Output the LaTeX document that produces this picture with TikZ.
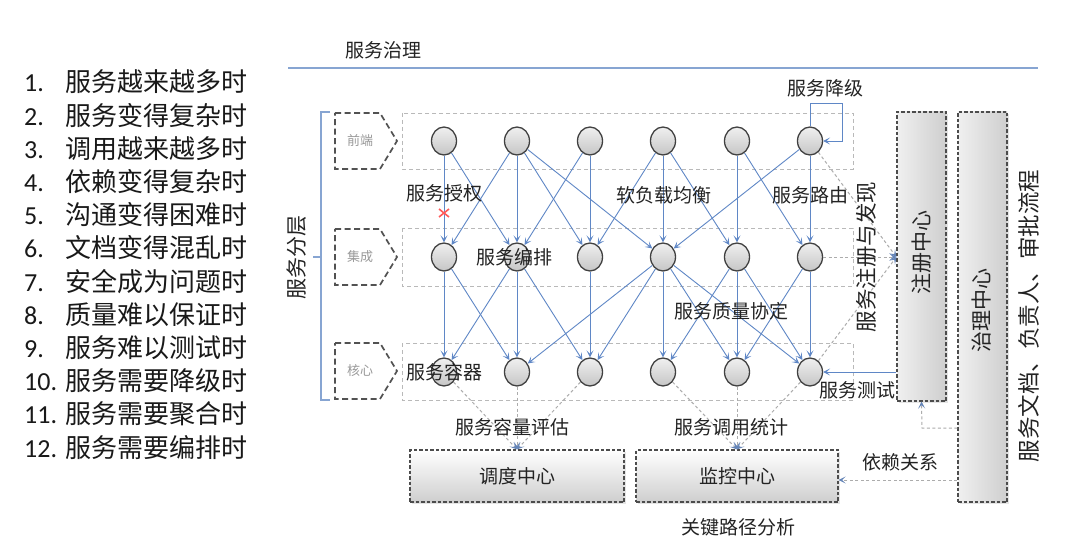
\documentclass[tikz,border=0pt]{standalone}
\usepackage{fontspec}
\setmainfont{Carlito}
\newfontfamily\cjk{Noto Sans CJK SC}
\usetikzlibrary{shapes.geometric,arrows.meta,shadows,calc}
\definecolor{arrowblue}{RGB}{95,135,198}
\definecolor{lineblue}{RGB}{135,165,210}
\definecolor{txt}{RGB}{35,35,35}
\begin{document}
\begin{tikzpicture}[x=1pt,y=-1pt,
  svc/.style={ellipse, minimum width=25pt, minimum height=28pt, inner sep=0pt,
    draw=black!75, line width=1.3pt, top color=gray!12, bottom color=gray!45},
  flow/.style={draw=arrowblue, line width=0.9pt, -{Stealth[length=7pt,width=7pt,inset=3.5pt]}},
  dg/.style={draw=gray!65, line width=1pt, dash pattern=on 3pt off 2.5pt,
    -{Stealth[length=7pt,width=7pt,inset=3.5pt,color=arrowblue!80!gray]}},
  lbl/.style={font={\cjk\fontsize{19}{22}\selectfont}, text=txt, inner sep=0pt},
  vlbl/.style={font={\cjk\fontsize{21}{24}\selectfont}, text=txt, inner sep=0pt, rotate=90},
  small/.style={font={\cjk\fontsize{13}{15}\selectfont}, text=gray!80, inner sep=0pt},
  layer/.style={draw=gray!55, line width=0.8pt, dash pattern=on 4pt off 3pt},
  pent/.style={draw=black!68, line width=1.7pt, dash pattern=on 6pt off 3.5pt},
  hbox/.style={draw=black!70, line width=1.2pt, dash pattern=on 3.5pt off 2pt,
    top color=white, bottom color=gray!38, inner sep=0pt,
    drop shadow={shadow xshift=2pt, shadow yshift=-2pt, opacity=0.2},
    font={\cjk\fontsize{19}{22}\selectfont}, text=txt},
  vbox/.style={draw=black!70, line width=1.2pt, dash pattern=on 3.5pt off 2pt,
    left color=gray!12, right color=gray!38, inner sep=0pt,
    drop shadow={shadow xshift=2pt, shadow yshift=-2pt, opacity=0.2}},
  brk/.style={draw=lineblue, line width=1.2pt},
  listitem/.style={anchor=west, inner sep=0pt, font={\fontsize{26}{30}\selectfont}, text=black!90}
]
\path[fill=white] (0,0) rectangle (1080,559);
\useasboundingbox (0,0) rectangle (1080,559);

% left list
\foreach \n/\t [count=\k from 0] in {1./服务越来越多时,2./服务变得复杂时,3./调用越来越多时,4./依赖变得复杂时,5./沟通变得困难时,6./文档变得混乱时,7./安全成为问题时,8./质量难以保证时,9./服务难以测试时,10./服务需要降级时,11./服务需要聚合时,12./服务需要编排时}{
  \node[listitem] (li\k) at (24,{82+33.2*\k}) {\makebox[41pt][l]{\n}{\cjk\t}};
}

% top title and line
\node[lbl] (title) at (383,50) {服务治理};
\draw[draw=lineblue, line width=1.4pt] (288,68) -- (1038,68);

% layering bracket
\draw[brk] (330,112) -- (321,112) -- (321,400) -- (330,400);
\draw[brk] (313,257) -- (321,257);
\node[vlbl, font={\cjk\fontsize{21}{24}\selectfont}] (layering) at (297,257) {服务分层};

% layer pentagons
\foreach \y/\t/\nm in {141/前端/fe,257/集成/in,371/核心/co}{
  \draw[pent] (335,\y-28) -- (380,\y-28) -- (397,\y) -- (380,\y+28) -- (335,\y+28) -- cycle;
  \node[small] (\nm) at (360,\y) {\t};
}

% layer rectangles
\draw[layer] (402,113) rectangle (853,169);
\draw[layer] (402,228) rectangle (853,286);
\draw[layer] (402,343) rectangle (853,400);

% service nodes
\foreach \i/\x in {1/444,2/517,3/590,4/663,5/737,6/810}{
  \node[svc] (a\i) at (\x,141) {};
  \node[svc] (b\i) at (\x,257) {};
  \node[svc] (c\i) at (\x,372) {};
}

% centres
\node[vbox, minimum width=49pt, minimum height=289pt] (reg) at (921.5,256.5) {};
\node[vlbl] (regt) at (922,252) {注册中心};
\node[vbox, minimum width=49pt, minimum height=390pt] (gov) at (982.5,307) {};
\node[vlbl] (govt) at (982,310) {治理中心};
\node[hbox, minimum width=214pt, minimum height=52pt] (disp) at (517,476) {调度中心};
\node[hbox, minimum width=202pt, minimum height=52pt] (mon) at (737,476) {监控中心};

% flows
\foreach \s/\t in {a1/b1,a1/b2,a2/b1,a2/b2,a2/b3,a2/b4,a3/b2,a3/b3,a4/b3,a4/b4,a4/b5,a5/b5,a5/b6,a6/b6,a6/b4,
  b1/c1,b1/c2,b2/c1,b2/c2,b2/c3,b3/c3,b4/c2,b4/c3,b4/c4,b4/c5,b4/c6,b5/c4,b5/c5,b5/c6,b6/c5,b6/c6}
  \draw[flow] (\s) -- (\t);

% degrade loop
\coordinate (loop) at (842,103);
\draw[flow] (a6.north) |- (loop) |- (a6.east);

% red cross
\coordinate (x) at (444,213);
\draw[draw=red!65, line width=1.6pt] ($(x)+(-5,-4)$) -- ($(x)+(5,4)$) ($(x)+(-5,4)$) -- ($(x)+(5,-4)$);

% registry / discovery
\draw[dg] (a6) -- (reg.west |- b6);
\draw[dg] (b6) -- (reg.west |- b6);
\draw[dg] (c6) -- (reg.west |- b6);
\draw[flow] (reg.west |- c6) -- (c6);

% capacity / statistics
\foreach \s in {c1,c2,c3} \draw[dg] (\s) -- (disp.north);
\foreach \s in {c4,c5,c6} \draw[dg] (\s) -- (mon.north);

% governance connections
\coordinate (k) at (922,428);
\draw[dg] (gov.west |- k) -- (k) -- (reg.south);
\coordinate (dep) at (957,480);
\draw[dg] (dep) -- (mon.east |- dep);

% labels
\node[lbl] (l1) at (444,193) {服务授权};
\node[lbl] (l2) at (664,195) {软负载均衡};
\node[lbl] (l3) at (810,195) {服务路由};
\node[lbl] (l4) at (514,257) {服务编排};
\node[lbl] (l5) at (731,311) {服务质量协定};
\node[lbl] (l6) at (444,372) {服务容器};
\node[lbl] (l7) at (825,88) {服务降级};
\node[lbl] (l8) at (857,390) {服务测试};
\node[lbl] (l9) at (512,427) {服务容量评估};
\node[lbl] (l10) at (731,427) {服务调用统计};
\node[lbl] (l11) at (738,527) {关键路径分析};
\node[lbl] (l12) at (900,462) {依赖关系};
\node[vlbl, font={\cjk\fontsize{21.5}{24}\selectfont}] (l13) at (866,257) {服务注册与发现};
\node[vlbl, font={\cjk\fontsize{22.5}{24}\selectfont}] (l14) at (1029,316) {服务文档、负责人、审批流程};
\end{tikzpicture}
\end{document}
